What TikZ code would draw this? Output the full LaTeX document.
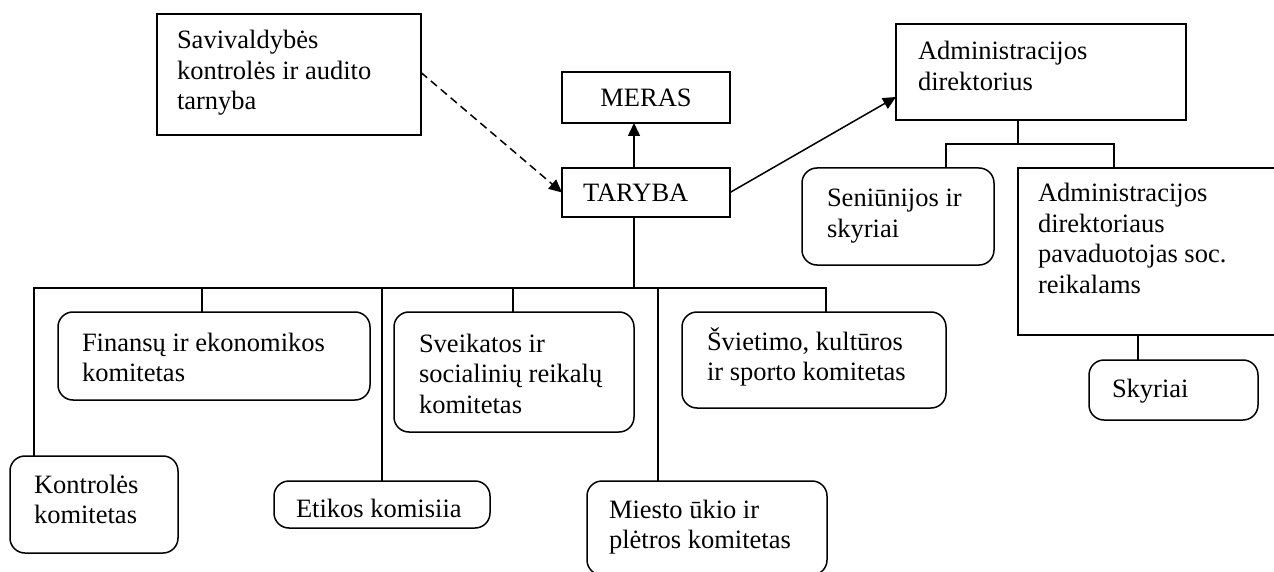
\documentclass[tikz,border=0pt]{standalone}
\usepackage{fontspec}
\setmainfont{Liberation Serif}
\usetikzlibrary{arrows.meta}

% box from (#3,#4) to (#5,#6), top-left origin, y downwards
\newcommand{\orgbox}[6]{%
  \node[#2, anchor=north west,
        minimum width={(#5-#3)*1pt}, minimum height={(#6-#4)*1pt}] (#1) at (#3,#4) {};}
% label whose first baseline sits at the given point
\newcommand{\orglabel}[4]{%
  \node[lbl] (#1) at (#2,#3) {\parbox[t]{320pt}{\raggedright #4}};}

\begin{document}
\begin{tikzpicture}[x=1pt, y=-1pt,
  plain/.style={draw, line width=1.5pt, inner sep=0pt, outer sep=0pt},
  rbox/.style={plain, rounded corners=15pt},
  lbl/.style={anchor=base west, inner sep=0pt, outer sep=0pt,
              font=\fontsize{26.5}{30.5}\selectfont},
  link/.style={line width=1.5pt},
  tip/.style={-{Triangle[length=13pt,width=12pt]}}]

\useasboundingbox (0,0) rectangle (1274,572);
\clip (0,0) rectangle (1274,572);

% ---- boxes ----
\orgbox{sav}{plain}{157}{14}{421}{135}
\orgbox{meras}{plain}{562}{72}{730}{123}
\orgbox{taryba}{plain}{562}{168}{730}{217}
\orgbox{admin}{plain}{896}{24}{1186}{120}
\orgbox{sen}{rbox}{802}{168}{994}{265}
\orgbox{dep}{plain}{1018}{168}{1300}{335}
\orgbox{sky}{rbox}{1089}{360}{1258}{420}
\orgbox{fin}{rbox}{58}{312}{370}{400}
\orgbox{sve}{rbox}{394}{312}{634}{432}
\orgbox{svi}{rbox}{682}{312}{946}{408}
\orgbox{kon}{rbox}{10}{456}{178}{553}
\orgbox{eti}{rbox}{274}{481}{490}{528}
\orgbox{mie}{rbox}{587}{481}{827}{575}

% ---- texts ----
\orglabel{tsav}{177}{49}{Savivaldybės\\kontrolės ir audito\\tarnyba}
\node[lbl, anchor=base] (tmeras) at (646,107) {MERAS};
\orglabel{ttaryba}{583}{202}{TARYBA}
\orglabel{tadmin}{918}{60}{Administracijos\\direktorius}
\orglabel{tsen}{827}{207}{Seniūnijos ir\\skyriai}
\orglabel{tdep}{1038}{202}{Administracijos\\direktoriaus\\pavaduotojas soc.\\reikalams}
\orglabel{tsky}{1112}{397}{Skyriai}
\orglabel{tfin}{82}{351}{Finansų ir ekonomikos\\komitetas}
\orglabel{tsve}{419}{352}{Sveikatos ir\\socialinių reikalų\\komitetas}
\orglabel{tsvi}{707}{350}{Švietimo, kultūros\\ir sporto komitetas}
\orglabel{tkon}{34}{493}{Kontrolės\\komitetas}
\orglabel{teti}{296}{517}{Etikos komisiia}
\orglabel{tmie}{609}{518}{Miesto ūkio ir\\plėtros komitetas}

% ---- junction points ----
\coordinate (a1) at (946,144);
\coordinate (a2) at (1114,144);
\coordinate (a0) at (1018,144);
\coordinate (d0) at (1138,335);
\coordinate (t0) at (634,288);
\coordinate (b1) at (34,288);
\coordinate (b2) at (202,288);
\coordinate (b3) at (382,288);
\coordinate (b4) at (513,288);
\coordinate (b5) at (658,288);
\coordinate (b6) at (826,288);

% ---- arrows ----
\draw[link, tip] ([xshift=-12pt]taryba.north) -- ([xshift=-12pt]meras.south);
\draw[link, tip, dash pattern=on 8pt off 5pt] ([yshift=2pt]sav.east) -- (taryba.west);
\draw[link, tip] (taryba.east) -- ([yshift=-25pt]admin.west);

% ---- director branch ----
\draw[link] (a0 |- admin.south) -- (a0);
\draw[link] (a1 |- sen.north) -- (a1) -- (a2) -- (a2 |- dep.north);
\draw[link] (d0 |- dep.south) -- (d0 |- sky.north);

% ---- council branch ----
\draw[link] ([xshift=-12pt]taryba.south) -- (t0);
\draw[link] (b1 |- kon.north) -- (b1) -- (b6) -- (b6 |- svi.north);
\draw[link] (b2) -- (b2 |- fin.north);
\draw[link] (b3) -- (b3 |- eti.north);
\draw[link] (b4) -- (b4 |- sve.north);
\draw[link] (b5) -- (b5 |- mie.north);

\end{tikzpicture}
\end{document}
